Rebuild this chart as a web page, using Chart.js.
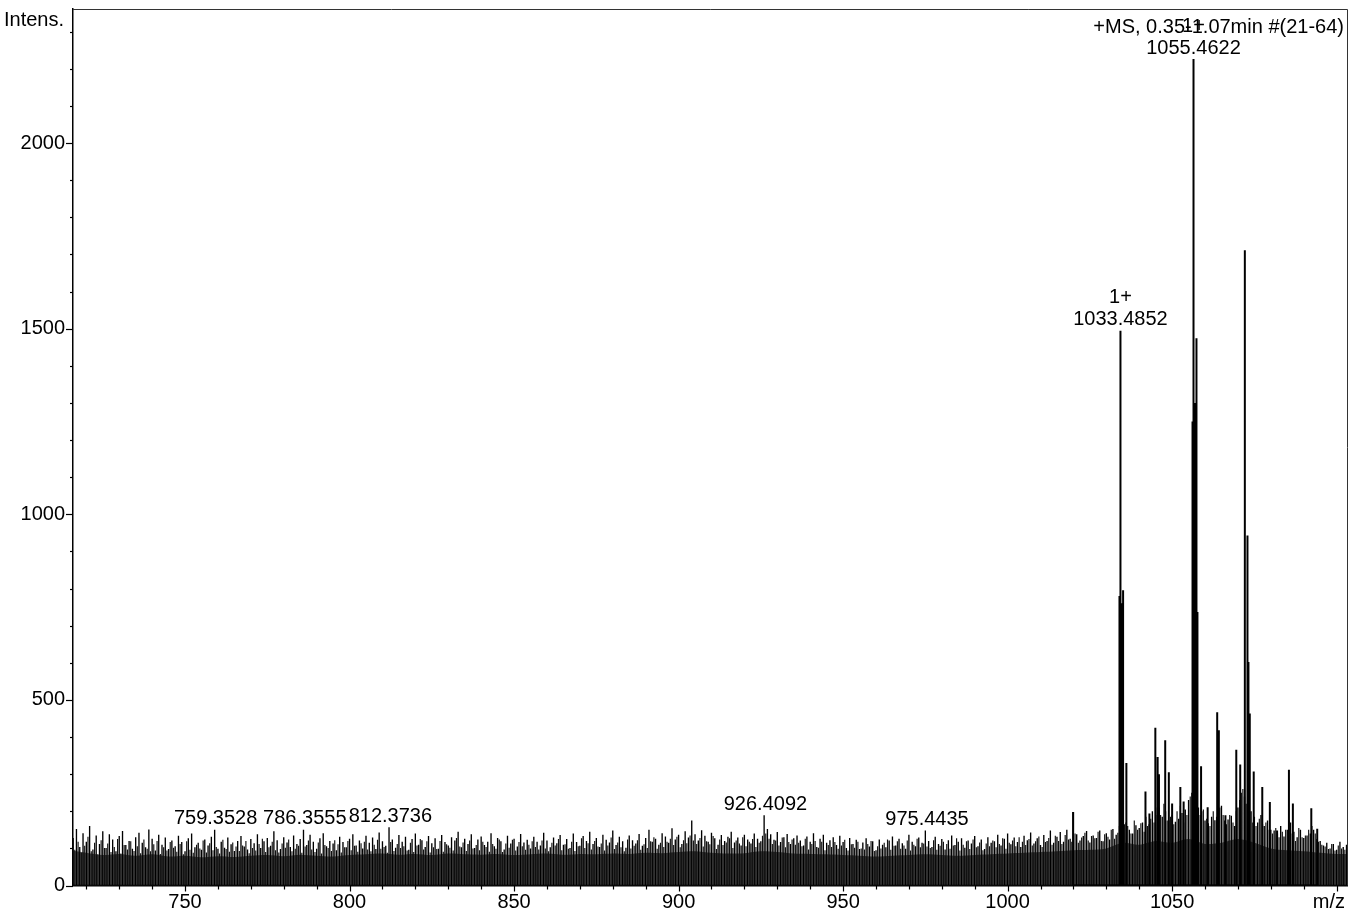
<!DOCTYPE html>
<html><head><meta charset="utf-8">
<script src="https://cdn.jsdelivr.net/npm/chart.js@4.4.1/dist/chart.umd.min.js"></script>
<style>html,body{margin:0;padding:0;background:#fff}canvas{display:block}</style>
</head><body>
<canvas id="c" width="1363" height="914"></canvas>
<script>
// ---- axis range ----
const xMin = 715.95, xMax = 1103.15;
const yMin = 0, yMax = 2361;
const xTickStep = 10, yTickStep = 100;
const xLabelEvery = 50, yLabelEvery = 500;

// ---- baseline noise: local maxima, one per m/z unit starting at 716 ----
const noiseStartMz = 716;
const noiseInt = [
128,152,104,141,118,160,97,135,112,146,
101,138,124,92,133,147,109,120,99,130,
142,115,103,151,126,94,137,110,129,98,
121,106,134,117,92,127,140,103,115,96,
124,108,131,150,99,118,102,129,111,93,
120,133,105,97,125,114,138,101,119,128,
107,146,122,98,130,116,104,135,112,125,
150,109,137,118,99,127,141,106,120,113,
95,131,117,103,126,138,108,121,100,134,
115,129,98,143,119,107,157,124,102,136,
118,131,96,125,140,110,122,104,133,114,
127,99,136,117,108,130,121,145,103,126,
112,138,101,124,132,109,118,141,106,128,
119,97,134,113,126,105,139,116,123,100,
131,118,108,142,121,103,129,114,136,110,
125,101,140,117,107,133,120,145,112,128,
104,137,123,116,148,109,131,119,102,135,
122,113,139,107,128,150,118,126,110,141,
132,115,154,124,137,112,146,129,175,138,
121,149,134,118,142,127,110,136,120,131,
145,116,129,108,137,124,113,140,126,119,
189,152,138,123,144,117,130,139,112,127,
135,121,108,132,118,141,104,126,137,115,
122,130,109,134,117,101,128,112,123,98,
116,127,105,119,95,124,110,103,121,132,
108,126,114,99,137,118,106,129,115,148,
120,104,131,112,125,97,122,135,109,118,
127,102,121,113,133,106,124,98,130,115,
119,137,108,126,140,111,129,117,104,134,
122,143,113,127,109,136,120,148,115,131,
144,118,150,126,198,138,121,133,147,116,
135,128,148,119,141,124,152,137,160,178,
170,150,140,162,155,170,185,165,200,190,
210,185,200,176,190,172,180,195,205,230,
250,240,210,200,175,168,185,176,230,215,
175,178,188,160,210,250,240,210,200,185,
170,190,160,175,150,148,140,160,132,150,
170,145,130,150,128,135,140,150,125,120,
108,115,100,112,96,118,104,110
];
// ---- second set of noise maxima, half a unit later (716.5, 717.5, ...) ----
const noiseStartMz2 = 716.5;
const noiseInt2 = [
96,118,88,107,131,92,115,84,122,101,
113,90,104,125,86,109,97,119,93,106,
87,124,99,92,111,120,85,103,94,117,
102,91,112,84,119,96,88,110,100,121,
89,114,95,104,86,123,98,91,116,105,
93,108,120,87,101,94,112,126,90,103,
118,95,89,113,102,124,92,99,107,88,
105,121,97,90,116,86,109,101,93,122,
111,89,103,120,95,107,91,114,118,97,
92,110,123,99,104,88,117,93,112,101,
106,94,115,90,108,125,97,119,89,103,
98,120,91,111,102,94,128,105,116,93,
121,100,109,95,118,104,91,112,99,124,
90,113,102,123,94,117,106,96,110,119,
104,97,121,100,92,115,108,125,95,111,
99,118,93,106,127,101,114,97,120,105,
113,94,108,129,98,116,103,92,124,100,
107,122,96,111,101,119,130,99,115,104,
118,126,109,131,103,122,114,135,121,112,
128,105,119,111,133,98,124,109,116,127,
101,121,113,130,106,118,125,104,115,134,
140,126,112,121,108,129,103,117,124,110,
115,106,126,97,112,120,102,118,95,109,
104,117,99,108,123,94,111,102,118,100,
97,112,120,93,106,100,115,124,96,107,
119,99,108,121,94,110,126,103,113,105,
101,122,96,107,118,112,99,108,127,94,
110,119,98,124,103,116,95,113,106,121,
103,112,127,99,115,121,106,130,118,109,
125,108,119,132,104,117,128,110,134,120,
112,136,124,118,140,115,129,142,121,133,
127,145,120,138,131,150,126,142,200,165,
160,140,175,150,168,145,160,180,170,210,
190,220,175,185,165,200,215,170,190,240,
260,220,190,205,180,160,200,185,210,190,
165,190,170,200,230,260,220,190,170,160,
180,165,170,150,140,155,130,145,150,175,
140,120,155,130,135,150,160,140,118,110,
105,98,112,94,108,100,96,90
];

// ---- dense noise floor (upper edge), every 5 m/z starting at 715 ----
const bandStartMz = 715;
const bandTop = [
95,88,82,85,80,84,78,80,76,79,
77,80,82,79,83,80,78,82,84,86,
83,85,82,86,84,83,85,82,84,86,
83,85,84,86,85,88,87,90,92,88,
86,87,92,90,86,85,84,82,80,78,
80,82,84,82,80,82,84,86,88,90,
92,95,96,100,115,110,120,115,125,112,
115,125,115,100,95,92,88,85,85
];

// ---- resolved peaks ----
const peakMz  = [1019.9,1034.0,1034.3,1034.6,1035.1,1036.1,1041.9,1043.1,1044.9,1045.6,1046.0,1047.9,1049.0,1050.0,1052.5,1053.5,1056.2,1056.5,1056.8,1057.4,1057.7,1058.8,1060.8,1063.7,1064.2,1066.2,1069.5,1070.7,1072.1,1072.9,1073.2,1073.6,1074.8,1077.4,1079.7,1081.9,1085.5,1086.7,1092.3,1094.1];
const peakInt = [198,780,1494,760,795,330,253,194,425,346,300,391,305,221,265,226,1250,2226,1300,1474,737,321,211,467,418,189,366,326,1711,943,602,463,307,265,225,148,312,221,208,153];

// ---- peak annotations ----
const labelMz   = [759.3, 786.4, 812.4, 926.4, 975.5, 1034.3, 1056.5];
const labelInt  = [150, 150, 157, 189, 148, 1494, 2226];
const labelText = ['759.3528','786.3555','812.3736','926.4092','975.4435','1033.4852','1055.4622'];
const chargeText= ['','','','','','1+','1+'];

const titleText = '+MS, 0.35-1.07min #(21-64)';
const yAxisTitle = 'Intens.';
const xAxisTitle = 'm/z';

// ---- build tables ----
function sticks(xs, ys){
  const pts = [];
  xs.forEach((x,i)=>{ pts.push({x:x,y:0},{x:x,y:ys[i]},{x:x,y:0}); });
  return pts;
}
const noiseMz = noiseInt.map((_,i)=>noiseStartMz+i);
const noiseMz2 = noiseInt2.map((_,i)=>noiseStartMz2+i);
const bandMz = bandTop.map((_,i)=>bandStartMz+5*i);
const bandData = bandMz.map((x,i)=>({x:x,y:bandTop[i]}));

const FONT = '"Liberation Sans", Arial, sans-serif';

const deco = {
  id:'deco',
  afterDraw(chart){
    const {ctx, chartArea:a, scales:{x,y}} = chart;
    ctx.save();
    ctx.strokeStyle='#333'; ctx.lineWidth=1;
    ctx.beginPath();
    ctx.moveTo(a.left, a.top+0.5); ctx.lineTo(a.right+0.5, a.top+0.5); ctx.lineTo(a.right+0.5, a.bottom);
    ctx.stroke();
    ctx.strokeStyle='#000'; ctx.lineWidth=1.2;
    x.ticks.forEach(t=>{
      const px = Math.round(x.getPixelForValue(t.value))+0.5;
      const len = (Math.round(t.value)%xLabelEvery===0)?6:4;
      ctx.beginPath(); ctx.moveTo(px,a.bottom); ctx.lineTo(px,a.bottom+len); ctx.stroke();
    });
    y.ticks.forEach(t=>{
      const py = Math.round(y.getPixelForValue(t.value))+0.5;
      const len = (Math.round(t.value)%yLabelEvery===0)?7:3;
      ctx.beginPath(); ctx.moveTo(a.left,py); ctx.lineTo(a.left-len,py); ctx.stroke();
    });
    ctx.fillStyle='#000';
    ctx.font='20px '+FONT;
    ctx.textBaseline='middle';
    ctx.textAlign='left';
    ctx.fillText(yAxisTitle, 4, 20);
    ctx.textAlign='right';
    ctx.fillText(titleText, 1344, 27);
    ctx.fillText(xAxisTitle, 1345, 902);
    ctx.textAlign='center';
    labelMz.forEach((m,i)=>{
      const px = x.getPixelForValue(m), py = y.getPixelForValue(labelInt[i]);
      ctx.fillText(labelText[i], px, py-11);
      if(chargeText[i]) ctx.fillText(chargeText[i], px, py-33);
    });
    ctx.restore();
  }
};

new Chart(document.getElementById('c'), {
  type:'line',
  data:{ datasets:[
    { label:'peaks', data:sticks(peakMz, peakInt), borderColor:'#000', borderWidth:2, pointRadius:0, tension:0, fill:false, borderJoinStyle:'bevel', order:1 },
    { label:'noise', data:sticks(noiseMz, noiseInt), borderColor:'#000', borderWidth:1.35, pointRadius:0, tension:0, fill:false, borderJoinStyle:'bevel', order:2 },
    { label:'noise2', data:sticks(noiseMz2, noiseInt2), borderColor:'#111', borderWidth:1.15, pointRadius:0, tension:0, fill:false, borderJoinStyle:'bevel', order:3 },
    { label:'floor', data:bandData, borderWidth:0, borderColor:'rgba(0,0,0,0)', backgroundColor:'#5e5e5e', pointRadius:0, tension:0.3, fill:'origin', order:4 }
  ]},
  options:{
    responsive:false, animation:false, events:[],
    devicePixelRatio:1,
    layout:{ padding:{ left:0, right:16, top:9, bottom:0 } },
    plugins:{ legend:{display:false}, tooltip:{enabled:false} },
    scales:{
      x:{ type:'linear', min:xMin, max:xMax,
          afterFit(s){ s.height = 28.5; s.paddingLeft = 0; s.paddingRight = 0; },
          grid:{ display:true, drawOnChartArea:false, drawTicks:false },
          border:{ display:true, color:'#000', width:1.5 },
          ticks:{ stepSize:xTickStep, autoSkip:false, maxRotation:0, includeBounds:false, padding:5,
                  color:'#000', font:{ family:FONT, size:20 },
                  callback:(v)=> (Math.round(v)%xLabelEvery===0 && v<1100) ? String(Math.round(v)) : '' } },
      y:{ type:'linear', min:yMin, max:yMax,
          afterFit(s){ s.width = 73; s.paddingTop = 0; s.paddingBottom = 0; },
          grid:{ display:true, drawOnChartArea:false, drawTicks:false },
          border:{ display:true, color:'#000', width:1.5 },
          ticks:{ stepSize:yTickStep, autoSkip:false, includeBounds:false, padding:8,
                  color:'#000', font:{ family:FONT, size:20 },
                  callback:(v)=> (Math.round(v)%yLabelEvery===0) ? String(Math.round(v)) : '' } }
    }
  },
  plugins:[deco]
});
</script>
</body></html>
